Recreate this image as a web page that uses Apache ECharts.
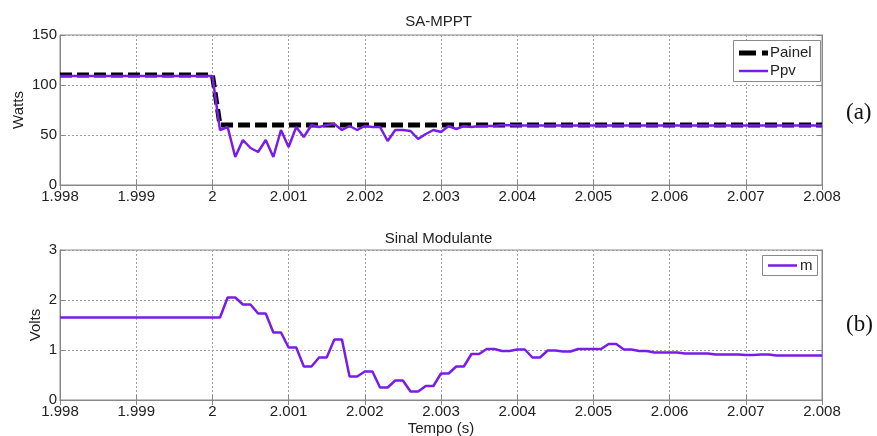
<!DOCTYPE html>
<html>
<head>
<meta charset="utf-8">
<script src="https://cdn.jsdelivr.net/npm/echarts@6/dist/echarts.min.js"></script>
<style>
  html, body { margin: 0; padding: 0; background: #fff; }
  #chart { width: 877px; height: 436px; }
</style>
</head>
<body>
<div id="chart"></div>
<script>
// ---- Data ----
const xTicks = [1.998, 1.999, 2.000, 2.001, 2.002, 2.003, 2.004, 2.005, 2.006, 2.007, 2.008];

// Top panel: SA-MPPT (Watts)
const painelTime  = [1.998, 2.0000, 2.0001, 2.008];
const painelWatts = [110,   110,    60,     60];

const ppvTime = [1.998, 2.0000, 2.0001, 2.0002, 2.0003, 2.0004, 2.0005, 2.0006, 2.0007, 2.0008, 2.0009,
                 2.0010, 2.0011, 2.0012, 2.0013, 2.0014, 2.0015, 2.0016, 2.0017, 2.0018, 2.0019,
                 2.0020, 2.0021, 2.0022, 2.0023, 2.0024, 2.0025, 2.0026, 2.0027, 2.0028, 2.0029,
                 2.0030, 2.0031, 2.0032, 2.0033, 2.0034, 2.0035, 2.0036, 2.0037, 2.0038,
                 2.0040, 2.0050, 2.0060, 2.0070, 2.0080];
const ppvWatts = [109, 109, 55, 58, 28, 45, 37, 33, 45, 28, 55,
                  38, 58, 48, 60, 58, 60, 61, 55, 59, 55,
                  59, 58, 58, 44, 55, 55, 54, 46, 51, 55,
                  53, 59, 56, 59, 58, 59, 59, 59, 60,
                  59.5, 59.5, 59.5, 59.5, 59.5];

// Bottom panel: Sinal Modulante (Volts)
const mTime = [1.998, 2.0001,
  2.0002, 2.0003, 2.0004, 2.0005, 2.0006, 2.0007, 2.0008, 2.0009,
  2.0010, 2.0011, 2.0012, 2.0013, 2.0014, 2.0015, 2.0016, 2.0017, 2.0018, 2.0019,
  2.0020, 2.0021, 2.0022, 2.0023, 2.0024, 2.0025, 2.0026, 2.0027, 2.0028, 2.0029,
  2.0030, 2.0031, 2.0032, 2.0033, 2.0034, 2.0035, 2.0036, 2.0037, 2.0038, 2.0039,
  2.0040, 2.0041, 2.0042, 2.0043, 2.0044, 2.0045, 2.0046, 2.0047, 2.0048, 2.0049,
  2.0050, 2.0051, 2.0052, 2.0053, 2.0054, 2.0055, 2.0056, 2.0057, 2.0058, 2.0059,
  2.0060, 2.0061, 2.0062, 2.0063, 2.0064, 2.0065, 2.0066, 2.0067, 2.0068, 2.0069,
  2.0070, 2.0071, 2.0072, 2.0073, 2.0074, 2.0080];
const mVolts = [1.65, 1.65,
  2.05, 2.05, 1.91, 1.91, 1.73, 1.73, 1.35, 1.35,
  1.05, 1.05, 0.67, 0.67, 0.85, 0.85, 1.21, 1.21, 0.47, 0.47,
  0.57, 0.57, 0.25, 0.25, 0.39, 0.39, 0.17, 0.17, 0.28, 0.28,
  0.53, 0.53, 0.67, 0.67, 0.92, 0.92, 1.02, 1.02, 0.98, 0.98,
  1.01, 1.01, 0.85, 0.85, 0.99, 0.99, 0.97, 0.97, 1.02, 1.02,
  1.02, 1.02, 1.12, 1.12, 1.01, 1.01, 0.98, 0.98, 0.95, 0.95,
  0.95, 0.95, 0.93, 0.93, 0.93, 0.93, 0.91, 0.91, 0.91, 0.91,
  0.90, 0.90, 0.91, 0.91, 0.89, 0.89];

const topYTicks = [0, 50, 100, 150];
const botYTicks = [0, 1, 2, 3];
const legendTop = ['Painel', 'Ppv'];
const legendBottom = ['m'];

// ---- Build chart ----
const zip = (a, b) => a.map((v, i) => [v, b[i]]);
const FONT = "'Liberation Sans', Arial, sans-serif";
const TXT = '#222';
const BOX = '#888';
const PURPLE = '#7a1ce8';
const FS = 15;

function xAxisCfg(gridIndex, showLabels, name) {
  return {
    type: 'value', gridIndex: gridIndex,
    min: xTicks[0], max: xTicks[xTicks.length - 1], interval: 0.001,
    axisLine: { show: true, onZero: false, lineStyle: { color: BOX, width: 1 } },
    axisTick: { show: true, inside: true, length: 5, lineStyle: { color: BOX } },
    axisLabel: {
      show: showLabels, color: TXT, fontFamily: FONT, fontSize: FS, margin: 4,
      formatter: v => String(parseFloat(v.toFixed(3)))
    },
    splitLine: { show: true, lineStyle: { color: '#a0a0a0', type: [2, 2], width: 1 } },
    name: name || '', nameLocation: 'middle', nameGap: 21, nameMoveOverlap: false,
    nameTextStyle: { color: TXT, fontFamily: FONT, fontSize: FS }
  };
}
function xAxisTop(gridIndex) {
  return {
    type: 'value', gridIndex: gridIndex, position: 'top',
    min: xTicks[0], max: xTicks[xTicks.length - 1], interval: 0.001,
    axisLine: { show: true, lineStyle: { color: BOX } },
    axisTick: { show: true, inside: true, length: 5, lineStyle: { color: BOX } },
    axisLabel: { show: false }, splitLine: { show: false }
  };
}
function yAxisCfg(gridIndex, ticks, name, nameGap) {
  return {
    type: 'value', gridIndex: gridIndex,
    min: ticks[0], max: ticks[ticks.length - 1], interval: ticks[1] - ticks[0],
    axisLine: { show: true, lineStyle: { color: BOX, width: 1 } },
    axisTick: { show: true, inside: true, length: 5, lineStyle: { color: BOX } },
    axisLabel: { color: TXT, fontFamily: FONT, fontSize: FS, margin: 3 },
    splitLine: { show: true, lineStyle: { color: '#a0a0a0', type: [2, 2], width: 1 } },
    name: name, nameLocation: 'middle', nameGap: nameGap, nameRotate: 90, nameMoveOverlap: false,
    nameTextStyle: { color: TXT, fontFamily: FONT, fontSize: FS }
  };
}
function yAxisRight(gridIndex, ticks) {
  return {
    type: 'value', gridIndex: gridIndex, position: 'right',
    min: ticks[0], max: ticks[ticks.length - 1], interval: ticks[1] - ticks[0],
    axisLine: { show: true, lineStyle: { color: BOX } },
    axisTick: { show: true, inside: true, length: 5, lineStyle: { color: BOX } },
    axisLabel: { show: false }, splitLine: { show: false }
  };
}

const legendText = (x, y, t) => ({
  type: 'text', x: x, y: y, z: 100,
  style: { text: t, fill: TXT, font: FS + "px " + FONT, textVerticalAlign: 'middle' }
});

const chart = echarts.init(document.getElementById('chart'), null, { renderer: 'canvas' });
chart.setOption({
  animation: false,
  backgroundColor: '#fff',
  title: [
    { text: 'SA-MPPT', left: 'center', top: 9,
      textStyle: { color: TXT, fontFamily: FONT, fontSize: FS, fontWeight: 'normal' } },
    { text: 'Sinal Modulante', left: 'center', top: 226,
      textStyle: { color: TXT, fontFamily: FONT, fontSize: FS, fontWeight: 'normal' } }
  ],
  grid: [
    { left: 60, right: 55, top: 35, height: 150, show: true, borderColor: BOX, borderWidth: 1,
      backgroundColor: '#fff', containLabel: false, outerBoundsMode: 'none' },
    { left: 60, right: 55, top: 250, height: 150, show: true, borderColor: BOX, borderWidth: 1,
      backgroundColor: '#fff', containLabel: false, outerBoundsMode: 'none' }
  ],
  xAxis: [ xAxisCfg(0, true), xAxisCfg(1, true, 'Tempo (s)'), xAxisTop(0), xAxisTop(1) ],
  yAxis: [ yAxisCfg(0, topYTicks, 'Watts', 34), yAxisCfg(1, botYTicks, 'Volts', 17),
           yAxisRight(0, topYTicks), yAxisRight(1, botYTicks) ],
  series: [
    { name: 'Painel', type: 'line', xAxisIndex: 0, yAxisIndex: 0,
      data: zip(painelTime, painelWatts), showSymbol: false, symbol: 'none',
      lineStyle: { color: '#000', width: 5, type: [12, 5] }, z: 2 },
    { name: 'Ppv', type: 'line', xAxisIndex: 0, yAxisIndex: 0,
      data: zip(ppvTime, ppvWatts), showSymbol: false, symbol: 'none',
      lineStyle: { color: PURPLE, width: 2.5 }, z: 3 },
    { name: 'm', type: 'line', xAxisIndex: 1, yAxisIndex: 1,
      data: zip(mTime, mVolts), showSymbol: false, symbol: 'none',
      lineStyle: { color: PURPLE, width: 2.5 }, z: 3 }
  ],
  graphic: [
    // top legend
    { type: 'rect', z: 99, shape: { x: 733.5, y: 40.5, width: 87, height: 41 },
      style: { fill: '#fff', stroke: BOX, lineWidth: 1 } },
    { type: 'line', z: 100, shape: { x1: 739, y1: 53, x2: 768, y2: 53 },
      style: { stroke: '#000', lineWidth: 5, lineDash: [17, 6] } },
    legendText(770, 53, legendTop[0]),
    { type: 'line', z: 100, shape: { x1: 739, y1: 71, x2: 768, y2: 71 },
      style: { stroke: PURPLE, lineWidth: 2.5 } },
    legendText(770, 71, legendTop[1]),
    // bottom legend
    { type: 'rect', z: 99, shape: { x: 762.5, y: 255.5, width: 55, height: 20 },
      style: { fill: '#fff', stroke: BOX, lineWidth: 1 } },
    { type: 'line', z: 100, shape: { x1: 768, y1: 265.5, x2: 797, y2: 265.5 },
      style: { stroke: PURPLE, lineWidth: 2.5 } },
    legendText(800, 265.5, legendBottom[0]),
    // panel tags
    { type: 'text', left: 846, top: 101,
      style: { text: '(a)', fill: '#111', font: "23px 'Liberation Serif', 'DejaVu Serif', serif" } },
    { type: 'text', left: 846, top: 313,
      style: { text: '(b)', fill: '#111', font: "23px 'Liberation Serif', 'DejaVu Serif', serif" } }
  ]
});
</script>
</body>
</html>
